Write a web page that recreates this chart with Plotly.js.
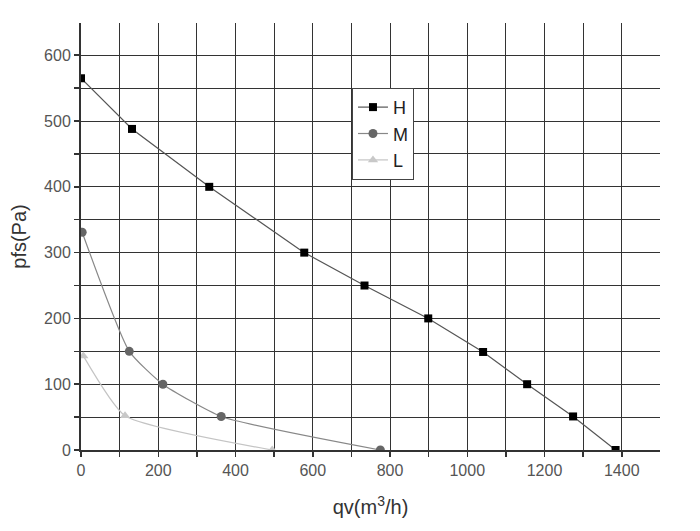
<!DOCTYPE html>
<html>
<head>
<meta charset="utf-8">
<script src="https://cdn.plot.ly/plotly-3.0.1.min.js"></script>
<style>
  html, body { margin: 0; padding: 0; background: #fff; }
  #plotlyDiv { width: 700px; height: 531px; }
</style>
</head>
<body>
<div id="plotlyDiv"></div>
<script>
// fan curves
const hFlow = [0, 132, 332, 578, 734, 899, 1041, 1155, 1274, 1384]
const hPressure = [565, 488, 400, 300, 250, 200, 149, 100, 51, 0]
const mFlow = [3, 125, 212, 363, 775]
const mPressure = [331, 150, 100, 51, 0]
const lFlow = [6, 114, 495]
const lPressure = [143, 52, 0]

const xTickVals = [0, 200, 400, 600, 800, 1000, 1200, 1400]
const yTickVals = [0, 100, 200, 300, 400, 500, 600]

const font = 'Liberation Sans, Arial, sans-serif'
const gridColor = '#333'

let data = [
  {
    x: hFlow, y: hPressure, name: 'H', mode: 'lines+markers',
    line: { color: '#555', width: 1.2 },
    marker: { symbol: 'square', size: 8, color: '#000' }
  },
  {
    x: mFlow, y: mPressure, name: 'M', mode: 'lines+markers',
    line: { color: '#888', width: 1.2, shape: 'spline', smoothing: 0.5 },
    marker: { symbol: 'circle', size: 9, color: '#666' }
  },
  {
    x: lFlow, y: lPressure, name: 'L', mode: 'lines+markers',
    line: { color: '#c4c4c4', width: 1.2, shape: 'spline', smoothing: 0.5 },
    marker: { symbol: 'triangle-up', size: 9, color: '#c8c8c8' }
  }
]

let layout = {
  width: 700,
  height: 531,
  margin: { l: 81, r: 40, t: 23, b: 81 },
  paper_bgcolor: '#fff',
  plot_bgcolor: '#fff',
  font: { family: font, color: '#444', size: 16 },
  showlegend: true,
  legend: {
    x: 0.468, y: 0.848, xanchor: 'left', yanchor: 'top',
    bgcolor: '#fff', bordercolor: '#444', borderwidth: 1,
    font: { family: font, size: 18, color: '#222' },
    tracegroupgap: 0
  },
  xaxis: {
    range: [0, 1499],
    tickvals: xTickVals,
    ticks: 'outside', ticklen: 5, tickcolor: '#333', tickwidth: 1.5,
    showline: true, linecolor: '#333', linewidth: 2,
    showgrid: true, gridcolor: gridColor, gridwidth: 1,
    minor: { dtick: 100, ticks: 'outside', ticklen: 5, tickcolor: '#333', showgrid: true, gridcolor: gridColor, gridwidth: 1 },
    zeroline: false,
    tickfont: { size: 16, color: '#555' },
    title: { text: 'qv(m<sup>3</sup>/h)', font: { size: 20, color: '#333' }, standoff: 22 }
  },
  yaxis: {
    range: [0, 649],
    tickvals: yTickVals,
    ticks: 'outside', ticklen: 5, tickcolor: '#333', tickwidth: 1.5,
    showline: true, linecolor: '#333', linewidth: 2,
    showgrid: true, gridcolor: gridColor, gridwidth: 1,
    minor: { dtick: 50, ticks: 'outside', ticklen: 5, tickcolor: '#333', showgrid: true, gridcolor: gridColor, gridwidth: 1 },
    zeroline: false,
    tickfont: { size: 16, color: '#555' },
    title: { text: 'pfs(Pa)', font: { size: 20, color: '#333' }, standoff: 12 }
  }
}

Plotly.newPlot('plotlyDiv', data, layout, { displayModeBar: false, staticPlot: true })
</script>
</body>
</html>
